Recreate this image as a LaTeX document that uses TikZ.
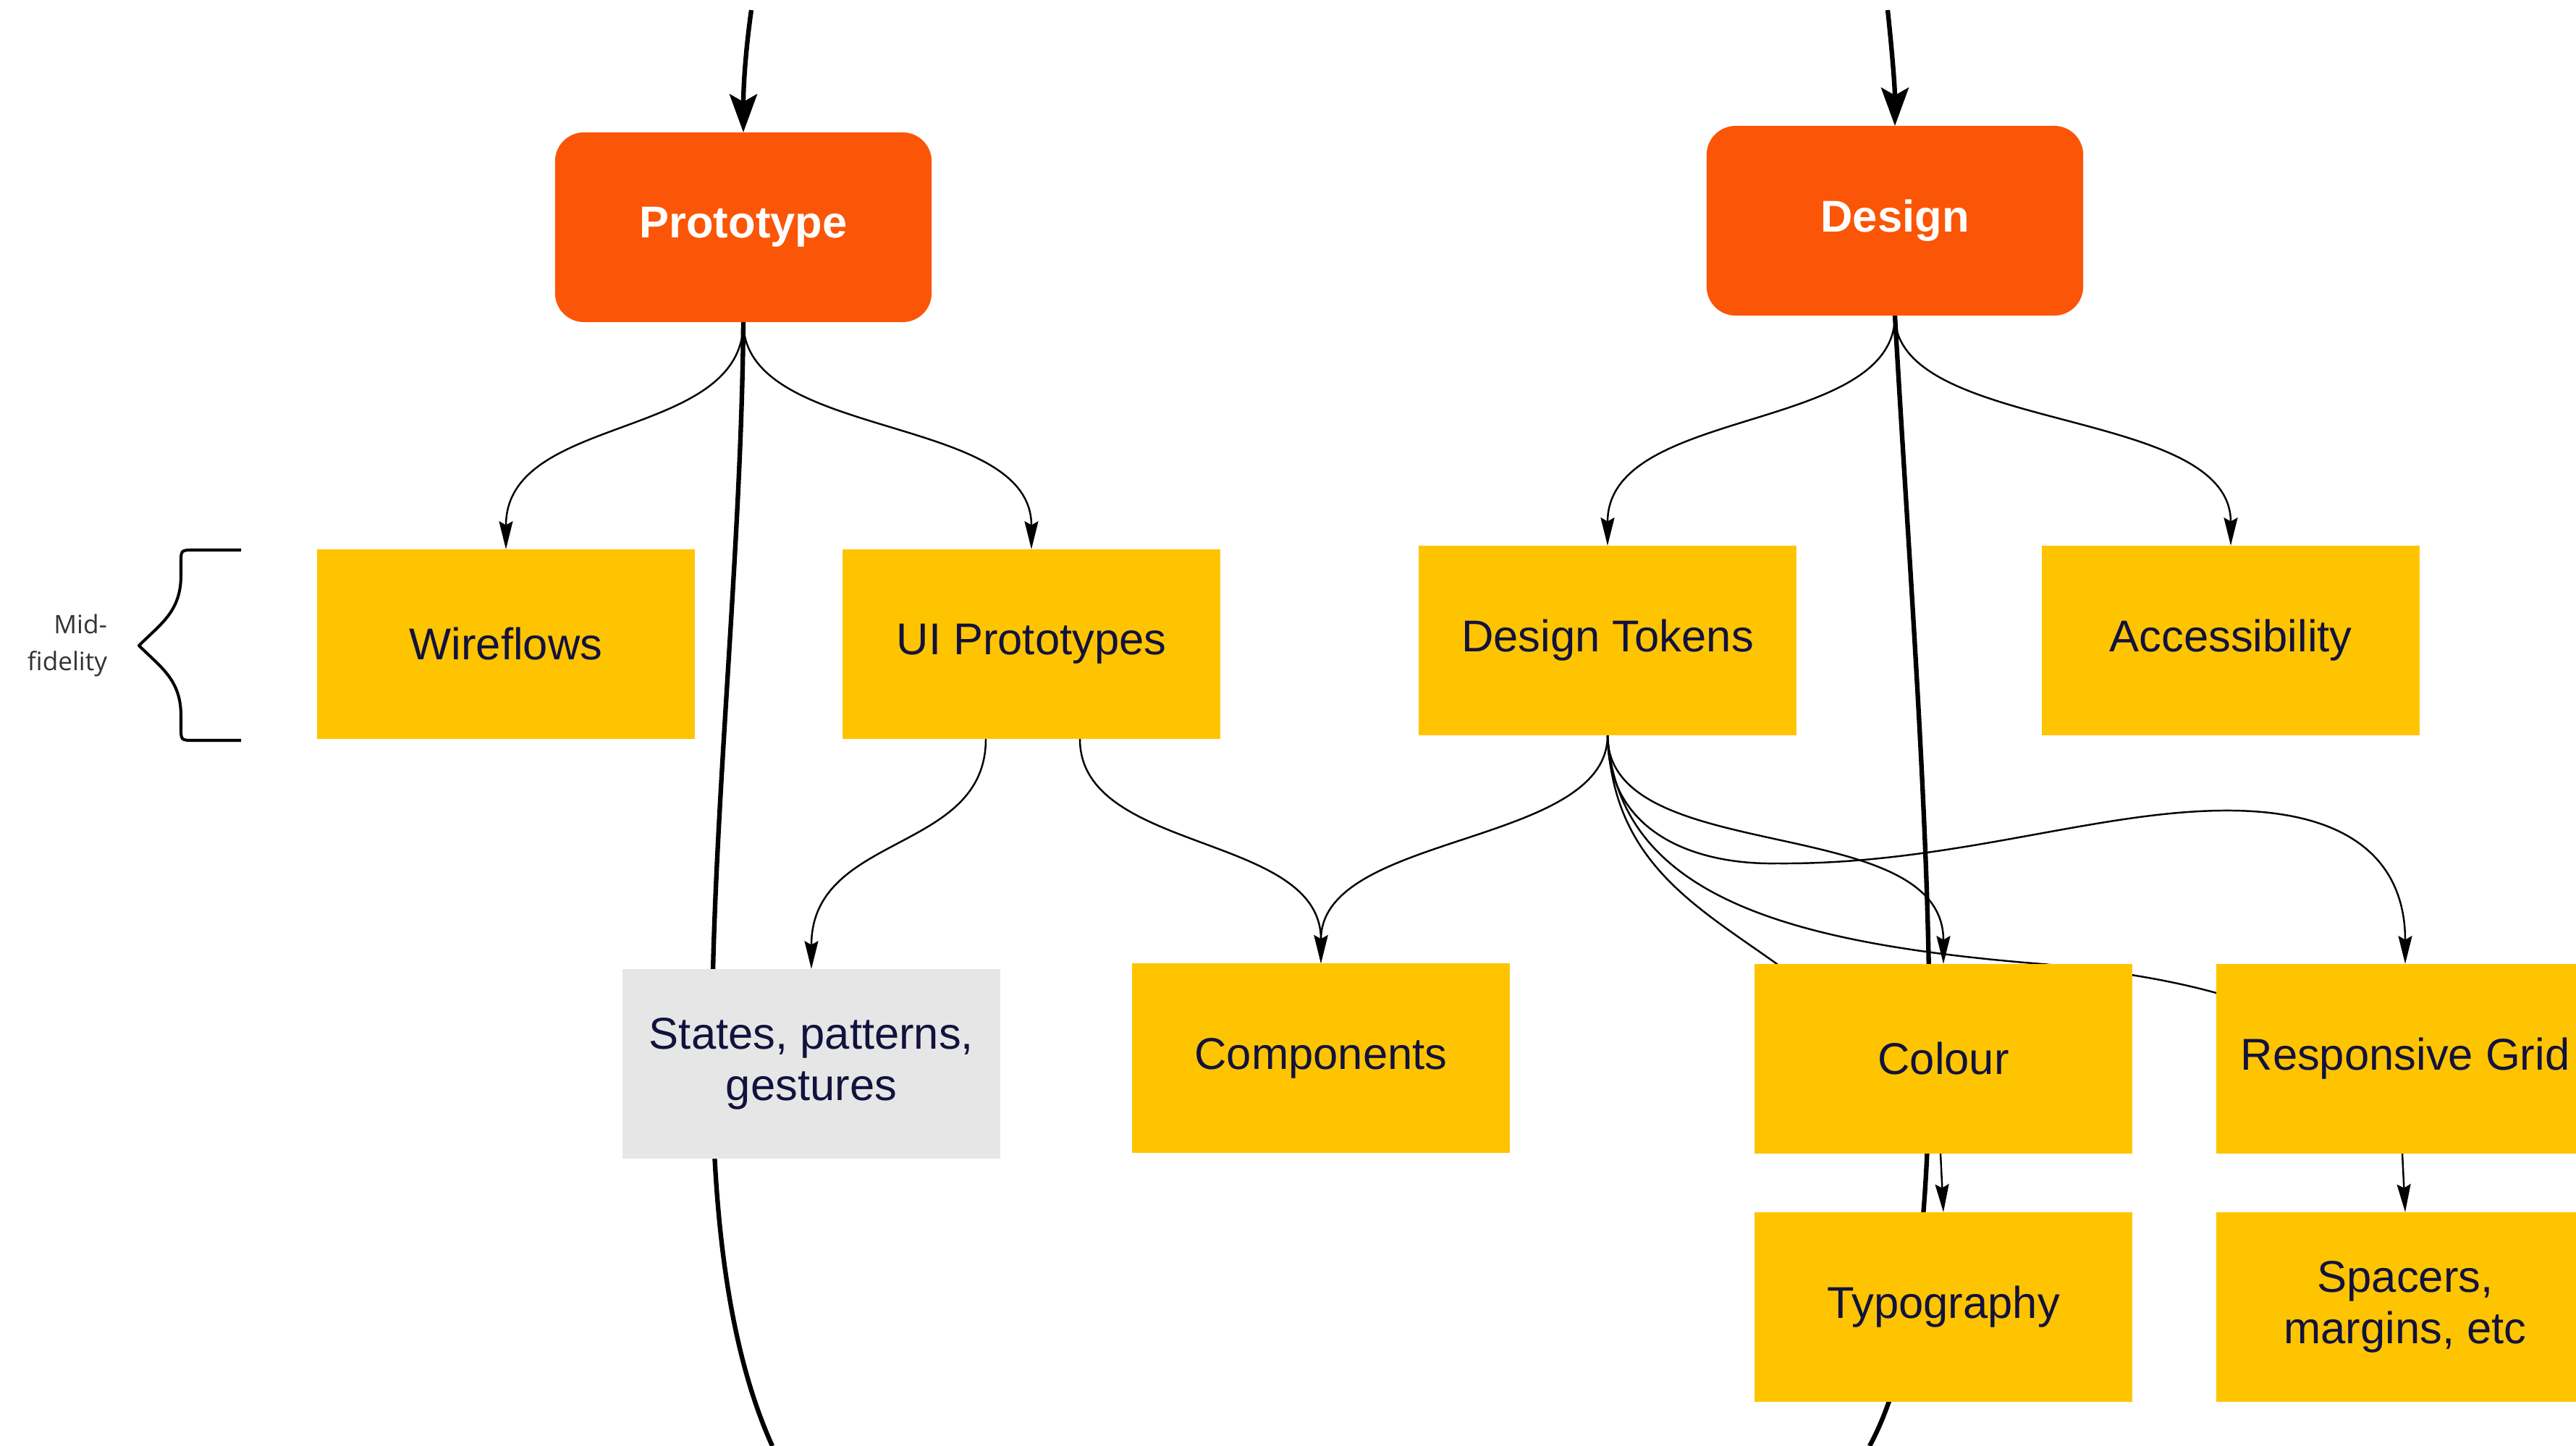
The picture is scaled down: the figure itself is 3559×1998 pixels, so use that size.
\documentclass[tikz,border=0pt]{standalone}
\usepackage{fontspec}
\setmainfont{Liberation Sans}
\newfontfamily\notefont{Open Sans}
\usetikzlibrary{arrows.meta,calc}
\definecolor{boxyellow}{HTML}{FFC400}
\definecolor{phaseorange}{HTML}{FB5607}
\definecolor{stategray}{HTML}{E6E6E6}
\definecolor{inkblue}{HTML}{12123E}
\definecolor{notegray}{HTML}{333333}
\pgfdeclarelayer{links}
\pgfsetlayers{links,main}

\begin{document}
\begin{tikzpicture}[x=0.01cm,y=-0.01cm,
  every node/.style={inner sep=0pt,outer sep=0pt},
  card/.style={minimum width=5.22cm,minimum height=2.62cm,align=center,
    text=inkblue,font=\fontsize{17.5}{20}\selectfont},
  topic/.style={card,fill=boxyellow},
  aside/.style={card,fill=stategray},
  phase/.style={minimum width=5.2cm,minimum height=2.62cm,fill=phaseorange,
    rounded corners=0.4cm,text=white,font=\fontsize{17.5}{20}\selectfont\bfseries},
  link/.style={line width=0.7pt,-{Stealth[length=11pt,width=5.4pt,inset=1.5pt]}},
  hidden link/.style={line width=0.7pt},
  flow/.style={line width=1.8pt},
  flow in/.style={flow,-{Stealth[length=15pt,width=10.8pt,inset=3pt]}},
]
\useasboundingbox (0,0) rectangle (3559,1998);
\clip (0,0) rectangle (3559,1998);

% phases
\node[phase] (proto)  at (1027,314) {Prototype};
\node[phase] (design) at (2618,305) {Design};

% topics
\node[topic] (wire)    at (699,890)   {Wireflows};
\node[topic] (uiproto) at (1425,890)  {UI Prototypes};
\node[topic] (tokens)  at (2221,885)  {Design Tokens};
\node[topic] (access)  at (3082,885)  {Accessibility};
\node[aside] (states)  at (1121,1470) {States, patterns,\\gestures};
\node[topic] (comps)   at (1825,1462) {Components};
\node[topic] (colour)  at (2685,1463) {Colour};
\node[topic] (grid)    at (3323,1463) {Responsive Grid};
\node[topic] (typo)    at (2685,1806) {Typography};
\node[topic] (spacers) at (3323,1806) {Spacers,\\margins, etc};

% fidelity note with its brace
\node[anchor=east,align=right,text=notegray,
  font=\notefont\fontsize{10}{14.5}\selectfont] (fidelity) at (148,892) {Mid-\\fidelity};
\draw[line width=1.15pt,line join=round]
  (333,760) -- (268,760) .. controls (250,760) .. (250,778) -- (250,795)
  .. controls (250,845) and (222,862) .. (192,892)
  .. controls (222,922) and (250,939) .. (250,989) -- (250,1005)
  .. controls (250,1023) .. (268,1023) -- (333,1023);

% connectors sit underneath the boxes
\begin{pgfonlayer}{links}
\clip (0,0) rectangle (3559,1998);
\coordinate (proto-in)   at (1038,14);
\coordinate (design-in)  at (2608,14);
\coordinate (proto-out)  at (1067,1998);
\coordinate (design-out) at (2583,1998);
\coordinate (colour-hid) at (2530,1400);
\coordinate (grid-hid)   at (3160,1400);

\draw[flow in] (proto-in) .. controls (1030,70) and (1027,120) .. (proto.north);
\draw[flow in] (design-in) .. controls (2614,70) and (2618,120) .. (design.north);
\draw[flow] (proto.south) .. controls (1022,1000) and (910,1650) .. (proto-out);
\draw[flow] (design.south) .. controls (2656,1100) and (2718,1750) .. (design-out);

\draw[link] (proto.south) .. controls (1027,610) and (699,570) .. (wire.north);
\draw[link] (proto.south) .. controls (1027,610) and (1425,570) .. (uiproto.north);
\draw[link] (design.south) .. controls (2618,600) and (2221,560) .. (tokens.north);
\draw[link] (design.south) .. controls (2618,600) and (3082,560) .. (access.north);

\draw[link] ($(uiproto.south)+(-63,0)$) .. controls (1362,1180) and (1121,1150) .. (states.north);
\draw[link] ($(uiproto.south)+(67,0)$) .. controls (1492,1180) and (1825,1150) .. (comps.north);

\draw[link] (tokens.south) .. controls (2221,1170) and (1825,1150) .. (comps.north);
\draw[link] (tokens.south) .. controls (2221,1200) and (2685,1120) .. (colour.north);
\draw[link] (tokens.south) .. controls (2221,1150) and (2340,1195) .. (2455,1193)
  .. controls (2700,1195) and (2900,1118) .. (3084,1120)
  .. controls (3260,1122) and (3323,1200) .. (grid.north);
\draw[hidden link] (tokens.south) .. controls (2228,1190) and (2340,1250) .. (2455,1332) -- (colour-hid);
\draw[hidden link] (tokens.south) .. controls (2235,1230) and (2450,1300) .. (2797,1330)
  .. controls (2900,1338) and (2990,1352) .. (3062,1372) -- (grid-hid);

\draw[link] ($(colour.south)+(-4,0)$) -- (typo.north);
\draw[link] ($(grid.south)+(-4,0)$) -- (spacers.north);
\end{pgfonlayer}
\end{tikzpicture}
\end{document}
